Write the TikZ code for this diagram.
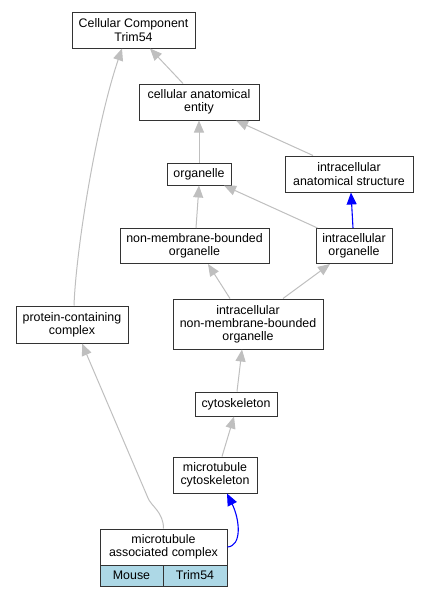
\documentclass[tikz,border=0pt]{standalone}
\usepackage{fontspec}
\setmainfont{Liberation Sans}
\usetikzlibrary{arrows.meta}
\definecolor{edgegray}{HTML}{BFBFBF}
\definecolor{cellblue}{HTML}{ADD8E6}
\tikzset{
  box/.style={draw=black!80, line width=1pt, fill=white, inner sep=0pt, align=center,
    font=\fontsize{12.4}{13.2}\selectfont},
  edge/.style={draw=edgegray, line width=1pt, -{Triangle[length=12pt,width=10pt]}},
  bedge/.style={draw=blue, line width=1.1pt, -{Triangle[length=12pt,width=10pt]}},
}
\begin{document}
\begin{tikzpicture}[x=1pt,y=-1pt]
\useasboundingbox (0,0) rectangle (429,597);
\node[box, minimum width=123pt, minimum height=36pt] (cc) at (133.5,30) {Cellular Component\\Trim54};
\node[box, minimum width=120pt, minimum height=36pt] (cae) at (199,102) {cellular anatomical\\entity};
\node[box, minimum width=64pt, minimum height=22pt] (org) at (199,174) {organelle};
\node[box, minimum width=128pt, minimum height=36pt] (ias) at (349,174) {intracellular\\anatomical structure};
\node[box, minimum width=149pt, minimum height=35pt] (nmbo) at (194.5,246) {non-membrane-bounded\\organelle};
\node[box, minimum width=76pt, minimum height=35pt] (io) at (354,246) {intracellular\\organelle};
\node[box, minimum width=112pt, minimum height=37pt] (pcc) at (72,324.5) {protein-containing\\complex};
\node[box, minimum width=150pt, minimum height=50pt] (inmbo) at (248,324) {intracellular\\non-membrane-bounded\\organelle};
\node[box, minimum width=82pt, minimum height=24pt] (cyto) at (236,404) {cytoskeleton};
\node[box, minimum width=84pt, minimum height=36pt] (mtc) at (215,475) {microtubule\\cytoskeleton};
\node[box, minimum width=127pt, minimum height=36pt] (mac) at (163.5,547) {microtubule\\associated complex};
\node[box, fill=cellblue, minimum width=63pt, minimum height=21pt] (mouse) at (131.5,575.5) {Mouse};
\node[box, fill=cellblue, minimum width=64pt, minimum height=21pt] (trim) at (195,575.5) {Trim54};

\draw[edge] ([xshift=-16pt]cae.north) -- ([xshift=16.5pt]cc.south);
\draw[edge] (org.north) -- (cae.south);
\draw[edge] ([xshift=-36pt]ias.north) -- ([xshift=37pt]cae.south);
\draw[edge] ([xshift=1.5pt]nmbo.north) -- (org.south);
\draw[edge] ([xshift=2pt]io.north west) -- ([xshift=25pt]org.south);
\draw[bedge] ([xshift=-1pt]io.north) -- ([xshift=2pt]ias.south);
\draw[edge] ([xshift=-18pt]inmbo.north) -- ([xshift=13.5pt]nmbo.south);
\draw[edge] ([xshift=35pt]inmbo.north) -- ([xshift=-24pt]io.south);
\draw[edge] ([xshift=1pt]cyto.north) -- ([xshift=-6pt]inmbo.south);
\draw[edge] ([xshift=7pt]mtc.north) -- ([xshift=-2pt]cyto.south);
\draw[bedge] (mac.east) .. controls (242,546) and (240,520) .. ([xshift=12pt]mtc.south);
\draw[edge] (mac.north) .. controls (163.5,512) and (151,506) .. (148,498) -- ([xshift=10pt]pcc.south);
\draw[edge] ([xshift=2pt]pcc.north) .. controls (76,250) and (96,125) .. ([xshift=-11.5pt]cc.south);
\end{tikzpicture}
\end{document}
